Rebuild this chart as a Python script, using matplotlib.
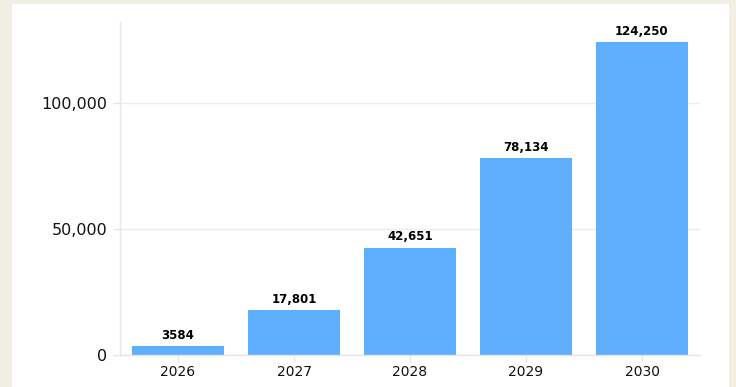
import matplotlib.pyplot as plt
from matplotlib.patches import Rectangle

years = ["2026", "2027", "2028", "2029", "2030"]
values = [3584, 17801, 42651, 78134, 124250]
labels = ["3584", "17,801", "42,651", "78,134", "124,250"]

W, H = 736, 387
fig = plt.figure(figsize=(W / 100, H / 100), dpi=100)
fig.patch.set_facecolor("#f1efe3")
fig.add_artist(Rectangle((12 / W, 0), (729 - 12) / W, (H - 4) / H,
                         transform=fig.transFigure, facecolor="white",
                         edgecolor="none", zorder=0))

ax = fig.add_axes([120 / W, (H - 355) / H, (700 - 120) / W, (355 - 22) / H])
ax.set_facecolor("none")
x = list(range(len(years)))
bars = ax.bar(x, values, width=0.8, color="#5eaefe", zorder=2)
ax.bar_label(bars, labels=labels, padding=3, fontsize=8.5, fontweight="bold",
             color="#000000")

ax.set_xlim(-0.5, 4.5)
ax.set_ylim(0, 132150)
ax.set_xticks(x)
ax.set_xticklabels(years, fontsize=10, color="#111111")
ax.set_yticks([0, 50000, 100000])
ax.set_yticklabels(["0", "50,000", "100,000"], fontsize=11.5, color="#111111")
ax.tick_params(axis="both", color="#e6e6e6", length=5, width=1)
ax.tick_params(axis="y", pad=4)
ax.tick_params(axis="x", pad=2)
ax.grid(axis="y", color="#ececec", linewidth=1, zorder=0)
for s in ["top", "right"]:
    ax.spines[s].set_visible(False)
for s in ["left", "bottom"]:
    ax.spines[s].set_color("#e6e6e6")
    ax.spines[s].set_linewidth(1)

fig.savefig("out.png", dpi=100)
